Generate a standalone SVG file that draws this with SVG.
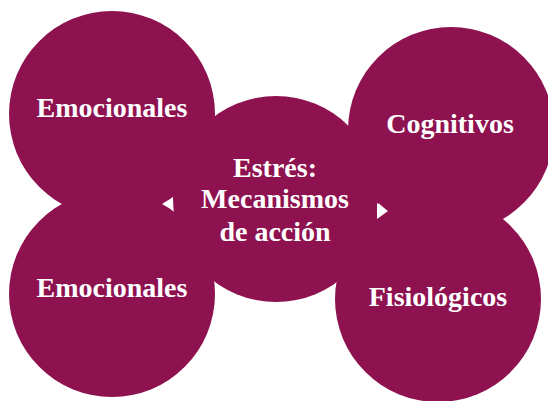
<svg xmlns="http://www.w3.org/2000/svg" width="548" height="401" viewBox="0 0 548 401">
<style>
.c{fill:#8E1250}
.t{fill:#ffffff;font-family:"Liberation Serif","Times New Roman",serif;font-weight:bold;font-size:28px;text-anchor:middle}
.a{fill:#ffffff}
</style>
<rect width="548" height="401" fill="#ffffff"/>
<g id="emocionales-top"><circle class="c" cx="112" cy="114" r="103"/></g>
<g id="emocionales-bottom"><circle class="c" cx="112" cy="294" r="103"/></g>
<g id="cognitivos"><circle class="c" cx="451" cy="130" r="103"/></g>
<g id="fisiologicos"><circle class="c" cx="438" cy="299" r="103"/></g>
<g id="estres"><circle class="c" cx="276" cy="199" r="103"/></g>
<g id="labels">
<text class="t" x="112" y="117">Emocionales</text>
<text class="t" x="112" y="297">Emocionales</text>
<text class="t" x="450" y="133">Cognitivos</text>
<text class="t" x="438" y="306">Fisiológicos</text>
<text class="t" x="275" y="177">Estrés:</text>
<text class="t" x="275" y="208">Mecanismos</text>
<text class="t" x="275" y="241">de acción</text>
</g>
<g id="connectors">
<polygon class="a" points="163,203.5 172,198 172,209"/>
<polygon class="a" points="388,211 377,203 377,219"/>
</g>
</svg>
